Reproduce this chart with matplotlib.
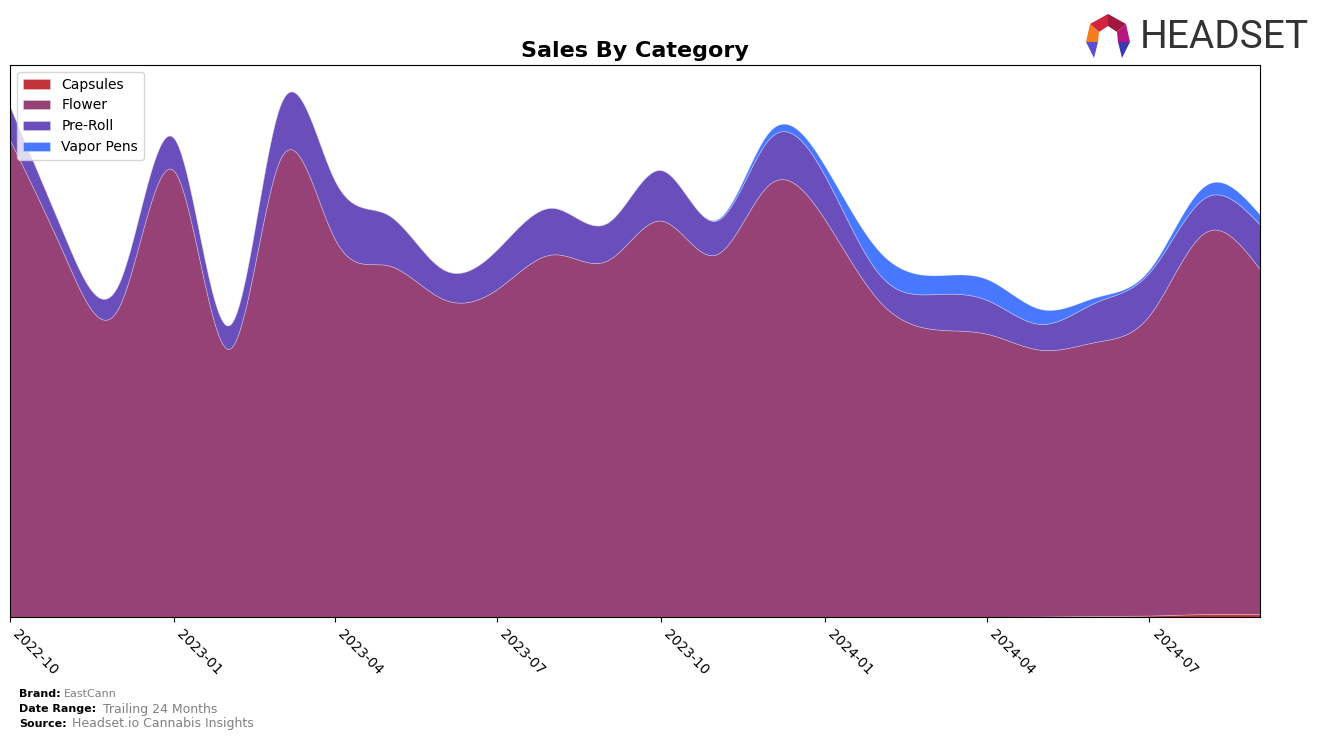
import matplotlib
matplotlib.use("Agg")
import matplotlib.pyplot as plt
import matplotlib.dates as mdates
from matplotlib.patches import Polygon
import numpy as np
import pandas as pd

# monthly sales (arbitrary units)
months = pd.date_range("2022-10-01", periods=24, freq="MS")
capsules = [0, 0, 0, 0, 0, 0, 0, 0, 0, 0, 0, 0,
            0, 0, 0, 0, 0, 0, 0, 0.5, 1, 1.5, 3, 3]
flower = [480, 362, 312, 449, 270, 459, 381, 354, 320, 330, 365, 359,
          399, 365, 436, 400, 317, 290, 285, 268.5, 276, 302.5, 384, 347]
preroll = [34, 20, 24, 33, 24, 54, 59, 51, 30, 40, 47, 38,
           51, 34, 46, 44, 27, 35, 34, 26, 40, 43, 35, 45]
vapor = [0, 0, 0, 0, 0, 0, 0, 0, 0, 0, 0, 0,
         0, 1, 7, 10, 23, 19, 21, 15, 5, 3, 12, 10]
labels = ["Capsules", "Flower", "Pre-Roll", "Vapor Pens"]
colors = ["#c0343a", "#964276", "#6a4ebc", "#4878ff"]


def smooth(x, y, xs):
    # natural cubic spline, just for drawing the curves
    y = np.asarray(y, dtype=float)
    n = len(x)
    h = np.diff(x)
    A = np.zeros((n, n))
    r = np.zeros(n)
    A[0, 0] = A[-1, -1] = 1
    for i in range(1, n - 1):
        A[i, i - 1] = h[i - 1]
        A[i, i] = 2 * (h[i - 1] + h[i])
        A[i, i + 1] = h[i]
        r[i] = 3 * ((y[i + 1] - y[i]) / h[i] - (y[i] - y[i - 1]) / h[i - 1])
    c = np.linalg.solve(A, r)
    b = (y[1:] - y[:-1]) / h - h * (2 * c[:-1] + c[1:]) / 3
    d = (c[1:] - c[:-1]) / (3 * h)
    idx = np.clip(np.searchsorted(x, xs) - 1, 0, n - 2)
    dx = xs - x[idx]
    return y[idx] + b[idx] * dx + c[idx] * dx ** 2 + d[idx] * dx ** 3


x = mdates.date2num(months.to_pydatetime())
xs = np.linspace(x[0], x[-1], 800)
series = [np.clip(smooth(x, s, xs), 0, None) for s in (capsules, flower, preroll, vapor)]

fig = plt.figure(figsize=(13.24, 7.4), dpi=100)
ax = fig.add_axes([10 / 1324, 1 - 617 / 740, 1250 / 1324, 552 / 740])

ax.stackplot(mdates.num2date(xs), *series, labels=labels, colors=colors,
             edgecolor=(1, 1, 1, 0.3), linewidth=0.6)
ax.set_xlim(mdates.num2date(x[0]), mdates.num2date(x[-1]))
ax.set_ylim(0, np.sum(series, axis=0).max() * 1.05)
ax.set_yticks([])
ax.xaxis.set_major_locator(mdates.MonthLocator(bymonth=[1, 4, 7, 10]))
ax.xaxis.set_major_formatter(mdates.DateFormatter("%Y-%m"))
plt.setp(ax.get_xticklabels(), rotation=-45, ha="left", fontsize=10)
ax.set_title("Sales By Category", fontsize=16, fontweight="bold", pad=6)
ax.legend(loc="upper left", fontsize=10)

# footer
fig.text(19 / 1324, 1 - 694 / 740, "Brand:", fontsize=8, fontweight="bold", va="center")
fig.text(64 / 1324, 1 - 694 / 740, "EastCann", fontsize=8, color="gray", va="center")
fig.text(19 / 1324, 1 - 709 / 740, "Date Range:", fontsize=8, fontweight="bold", va="center")
fig.text(103 / 1324, 1 - 709 / 740, "Trailing 24 Months", fontsize=9, color="gray", va="center")
fig.text(19 / 1324, 1 - 724 / 740, "Source:", fontsize=8, fontweight="bold", va="center")
fig.text(72 / 1324, 1 - 724 / 740, "Headset.io Cannabis Insights", fontsize=9, color="gray", va="center")

# logo
fig.text(1140 / 1324, 1 - 38 / 740, "HEADSET", fontsize=28, color="#333333",
         va="center", ha="left", family="Roboto")
cx, cy = 1108, 36
pts = {
    "t": (cx, cy - 22), "tr": (cx + 18, cy - 12), "r": (cx + 22, cy + 6),
    "tl": (cx - 18, cy - 12), "l": (cx - 22, cy + 6),
    "it": (cx, cy - 10), "itr": (cx + 9, cy - 4), "itl": (cx - 9, cy - 4),
    "ir": (cx + 10, cy + 6), "il": (cx - 10, cy + 6),
    "br": (cx + 14, cy + 22), "bl": (cx - 14, cy + 22),
}
shapes = [
    (["tl", "t", "it", "itl"], "#d0253d"),
    (["t", "tr", "itr", "it"], "#a3163f"),
    (["tr", "r", "ir", "itr"], "#b5177f"),
    (["tl", "itl", "il", "l"], "#f47c20"),
    (["r", "ir", "br"], "#3b3bb0"),
    (["l", "il", "bl"], "#5b4fd0"),
]
for names, col in shapes:
    poly = [(p[0] / 1324, 1 - p[1] / 740) for p in (pts[n] for n in names)]
    fig.patches.append(Polygon(poly, closed=True, transform=fig.transFigure,
                               facecolor=col, edgecolor="none"))

plt.savefig("out.png", dpi=100)
